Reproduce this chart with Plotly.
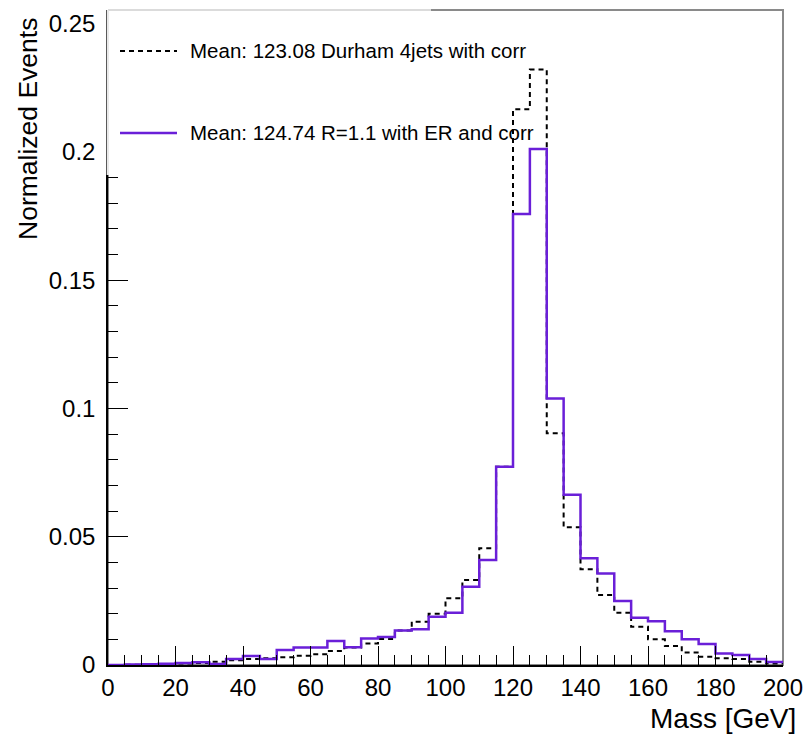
import plotly.graph_objects as go

# ---- data ----
bin_edges = [5 * i for i in range(41)]  # 0..200 GeV, 5 GeV bins
durham = [0.0000, 0.0001, 0.0002, 0.0004, 0.0006, 0.0008, 0.0013, 0.0019, 0.0023, 0.0026,
          0.0030, 0.0036, 0.0042, 0.0055, 0.0068, 0.0084, 0.0101, 0.0134, 0.0169, 0.0200,
          0.0260, 0.0331, 0.0455, 0.0773, 0.2166, 0.2321, 0.0903, 0.0537, 0.0373, 0.0273,
          0.0204, 0.0149, 0.0100, 0.0074, 0.0049, 0.0032, 0.0026, 0.0023, 0.0013, 0.0006]
r11 = [0.0000, 0.0002, 0.0003, 0.0005, 0.0008, 0.0011, 0.0004, 0.0023, 0.0035, 0.0023,
       0.0058, 0.0068, 0.0068, 0.0094, 0.0069, 0.0103, 0.0109, 0.0134, 0.0139, 0.0188,
       0.0204, 0.0305, 0.0409, 0.0773, 0.1758, 0.2011, 0.1039, 0.0664, 0.0416, 0.0357,
       0.0249, 0.0184, 0.0171, 0.0132, 0.0100, 0.0082, 0.0045, 0.0039, 0.0023, 0.0012]
labels = ["Mean: 123.08 Durham 4jets with corr", "Mean: 124.74 R=1.1 with ER and corr"]
x_ticks = [0, 20, 40, 60, 80, 100, 120, 140, 160, 180, 200]
y_ticks = [0, 0.05, 0.1, 0.15, 0.2, 0.25]

FONT = "Liberation Sans, Arial, Helvetica, sans-serif"
BLACK = "#000000"
PURPLE = "#6a1fd8"

fig = go.Figure()
fig.add_trace(go.Scatter(x=bin_edges, y=durham + [durham[-1]], mode="lines",
                         line=dict(shape="hv", color=BLACK, width=2, dash="5px,4px"),
                         name=labels[0], showlegend=False))
fig.add_trace(go.Scatter(x=bin_edges, y=r11 + [r11[-1]], mode="lines",
                         line=dict(shape="hv", color=PURPLE, width=2.5),
                         name=labels[1], showlegend=False))

W, H = 807, 734
L, R, T, B = 108, 24, 10, 69
PW, PH = W - L - R, H - T - B

fig.update_layout(
    width=W, height=H,
    margin=dict(l=L, r=R, t=T, b=B, pad=0, autoexpand=False),
    paper_bgcolor="white", plot_bgcolor="white",
    font=dict(family=FONT, color="black"),
    xaxis=dict(range=[0, 200], tickvals=x_ticks, ticks="inside", ticklen=19, tickwidth=1,
               tickcolor="black", showline=True, linecolor="black", linewidth=1.5,
               showgrid=False, zeroline=False, tickfont=dict(size=24, family=FONT),
               automargin=False,
               minor=dict(dtick=5, ticks="inside", ticklen=10, tickcolor="black", showgrid=False)),
    yaxis=dict(range=[0, 0.2553], tickvals=y_ticks, ticktext=["0", "0.05", "0.1", "0.15", "0.2", "0.25"],
               ticks="inside", ticklen=20, tickwidth=1,
               tickcolor="black", showline=True, linecolor="black", linewidth=1.5,
               showgrid=False, zeroline=False, tickfont=dict(size=24, family=FONT),
               ticklabelstandoff=6, automargin=False,
               minor=dict(dtick=0.01, ticks="inside", ticklen=10, tickcolor="black", showgrid=False)),
)

# frame (top/right) in gray
fig.add_shape(type="rect", xref="paper", yref="paper", x0=0, x1=1, y0=0, y1=1,
              line=dict(color="#8a8a8a", width=2), layer="below")

# legend box (white) covering top-left of the frame and axis
box_x1 = (431 - L) / PW
box_y0 = (665 - 175) / PH
fig.add_shape(type="rect", xref="paper", yref="paper", x0=-0.002, x1=box_x1, y0=box_y0, y1=1.003,
              line=dict(width=0), fillcolor="white", layer="above")
# faint remnants of the covered frame
fig.add_shape(type="line", xref="paper", yref="paper", x0=0, x1=box_x1, y0=1, y1=1,
              line=dict(color="#cfcfcf", width=1.5), layer="above")
fig.add_shape(type="line", xref="paper", yref="paper", x0=0, x1=0, y0=box_y0, y1=1,
              line=dict(color="#e2e2e2", width=1.5), layer="above")

# legend entries
rows = [(665 - 51) / PH, (665 - 133) / PH]
lx0, lx1, tx = (120 - L) / PW, (177 - L) / PW, (188 - L) / PW
fig.add_shape(type="line", xref="paper", yref="paper", x0=lx0, x1=lx1, y0=rows[0], y1=rows[0],
              line=dict(color=BLACK, width=2, dash="5px,4px"), layer="above")
fig.add_shape(type="line", xref="paper", yref="paper", x0=lx0, x1=lx1, y0=rows[1], y1=rows[1],
              line=dict(color=PURPLE, width=2.5), layer="above")
for lab, ry in zip(labels, rows):
    fig.add_annotation(text=lab, xref="paper", yref="paper", x=tx, y=ry, xanchor="left",
                       yanchor="middle", showarrow=False, font=dict(size=20.5, family=FONT))

# axis titles
fig.add_annotation(text="Mass [GeV]", xref="paper", yref="paper", x=(798 - L) / PW,
                   y=(665 - 718) / PH, xanchor="right", yanchor="middle", showarrow=False,
                   font=dict(size=28, family=FONT))
fig.add_annotation(text="Normalized Events", xref="paper", yref="paper", x=(28 - L) / PW,
                   y=(665 - 16) / PH, xanchor="center", yanchor="top", textangle=-90,
                   showarrow=False, font=dict(size=26.5, family=FONT))

fig.write_html("out.html")
